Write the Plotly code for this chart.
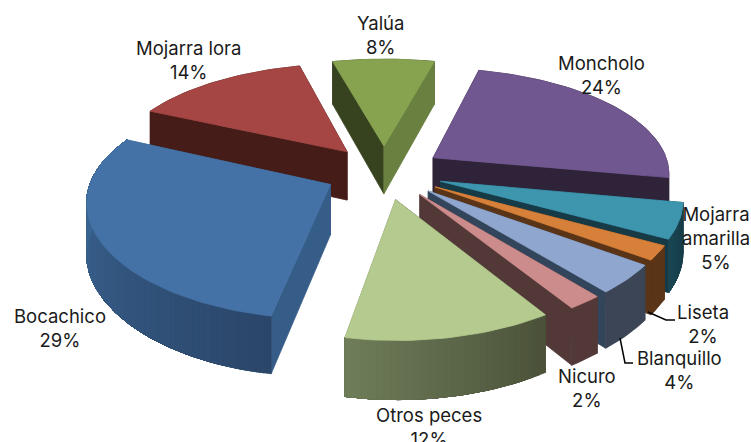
import math
import plotly.graph_objects as go

# Data
names = ["Moncholo", "Mojarra<br>amarilla", "Liseta", "Blanquillo", "Nicuro",
         "Otros peces", "Bocachico", "Mojarra lora", "Yalúa"]
values = [24, 5, 2, 4, 2, 12, 29, 14, 8]

# Styles (top, arc wall from, arc wall to, start-edge wall, end-edge wall)
top_colors = ["#70578F", "#3D96AE", "#D7803A", "#8FA7CF", "#CD8C8C", "#B5CA8E", "#4472A6", "#A54644", "#87A34F"]
arc_from = ["#2E2338", "#163B46", "#5A3416", "#3C4555", "#533838", "#4A5138", "#2B4669", "#451C18", "#37431F"]
arc_to = ["#2E2338", "#1A4653", "#5A3416", "#3C4555", "#533838", "#6F7D5A", "#3F6E9F", "#451C18", "#37431F"]
start_wall = ["#2E2338", "#163B46", "#5A3416", "#3C4555", "#533838", "#4A5138", "#365C88", "#451C18", "#37431F"]
end_wall = ["#2E2338", "#163B46", "#5A3416", "#33455B", "#533838", "#6F7D5A", "#365C88", "#451C18", "#6A8040"]
draw_order = [7, 6, 8, 0, 1, 2, 3, 4, 5]

# Label placement
label_x = [601, 716, 703, 679, 587, 429, 60, 188, 380]
label_y = [75, 238, 324, 370, 388, 427, 328, 60, 35]
leaders = [([648, 666, 675], [312, 320, 320]), ([620, 625, 633], [338, 363, 363])]

# Projection parameters
START_DEG = 14.3
PULL = 0.25
CX, CY = 384, 172
AX = 237
DEPTH = 677
PERSP_Y = 0.16
PERSP = 0.13
WALL = 49.5


def project(x, y, z=0.0):
    s = 1 / (1 + PERSP * y)
    sy = 1 / (1 + PERSP_Y * y)
    return CX + AX * x * s, CY + DEPTH * (sy - 1) + WALL * z * s


def hex_mix(a, b, t):
    ca = [int(a[i:i + 2], 16) for i in (1, 3, 5)]
    cb = [int(b[i:i + 2], 16) for i in (1, 3, 5)]
    return "#%02x%02x%02x" % tuple(round(p + (q - p) * t) for p, q in zip(ca, cb))


fig = go.Figure()


def poly(points, color):
    xs = [p[0] for p in points] + [points[0][0]]
    ys = [p[1] for p in points] + [points[0][1]]
    fig.add_trace(go.Scatter(x=xs, y=ys, mode="lines", fill="toself", fillcolor=color,
                             line=dict(color=color, width=0.8), hoverinfo="skip", showlegend=False))


total = sum(values)
starts = []
acc = START_DEG
for v in values:
    starts.append(acc)
    acc += 360 * v / total

for i in draw_order:
    a0 = starts[i]
    a1 = a0 + 360 * values[i] / total
    mid = math.radians((a0 + a1) / 2)
    ox, oy = PULL * math.sin(mid), PULL * math.cos(mid)
    n = max(3, int((a1 - a0) / 1.5))
    rim = []
    for k in range(n + 1):
        t = math.radians(a0 + (a1 - a0) * k / n)
        rim.append((ox + math.sin(t), oy + math.cos(t)))

    def draw_arc():
        bands = range(n) if arc_from[i] != arc_to[i] else [0]
        for k in bands:
            c = hex_mix(arc_from[i], arc_to[i], (k + 0.5) / n)
            upper = [project(*r) for r in rim[k:]]
            lower = [project(*r, 1) for r in rim[k:]]
            poly(upper + lower[::-1], c)

    def draw_radial():
        poly([project(ox, oy), project(*rim[0]), project(*rim[0], 1), project(ox, oy, 1)], start_wall[i])
        poly([project(ox, oy), project(*rim[-1]), project(*rim[-1], 1), project(ox, oy, 1)], end_wall[i])

    if math.cos(mid) < 0:
        draw_radial()
        draw_arc()
    else:
        draw_arc()
        draw_radial()
    poly([project(ox, oy)] + [project(*r) for r in rim], top_colors[i])

for lx, ly in leaders:
    fig.add_trace(go.Scatter(x=lx, y=ly, mode="lines", line=dict(color="#000000", width=1.5),
                             hoverinfo="skip", showlegend=False))

for name, val, x, y in zip(names, values, label_x, label_y):
    fig.add_annotation(x=x, y=y, text=f"{name}<br>{val}%", showarrow=False, xanchor="center", yanchor="middle",
                       align="center", font=dict(family="Inter", size=18.5, color="#1a1a1a"))

fig.update_xaxes(range=[0, 751], visible=False, fixedrange=True)
fig.update_yaxes(range=[442, 0], visible=False, fixedrange=True)
fig.update_layout(width=751, height=442, margin=dict(l=0, r=0, t=0, b=0),
                  paper_bgcolor="white", plot_bgcolor="white", showlegend=False)
fig.write_html("out.html", post_script="document.body.style.margin='0';", config={"displayModeBar": False})
